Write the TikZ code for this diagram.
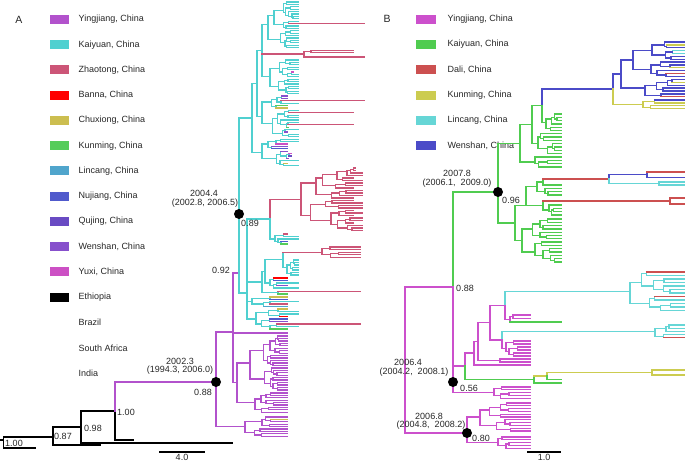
\documentclass[tikz,border=0pt]{standalone}
\usepackage{fontspec}
\setmainfont{Liberation Sans}
\definecolor{aYing}{RGB}{178,82,204}
\definecolor{aKai}{RGB}{80,208,208}
\definecolor{aZha}{RGB}{204,85,119}
\definecolor{aBan}{RGB}{255,0,0}
\definecolor{aChu}{RGB}{204,190,80}
\definecolor{aKun}{RGB}{85,204,90}
\definecolor{aLin}{RGB}{80,165,204}
\definecolor{aNuj}{RGB}{80,90,204}
\definecolor{aQuj}{RGB}{105,75,195}
\definecolor{aWen}{RGB}{135,80,204}
\definecolor{aYux}{RGB}{204,80,196}
\definecolor{bYing}{RGB}{204,80,204}
\definecolor{bKai}{RGB}{80,204,80}
\definecolor{bDal}{RGB}{204,80,80}
\definecolor{bKun}{RGB}{204,204,80}
\definecolor{bLin}{RGB}{102,214,214}
\definecolor{bWen}{RGB}{75,75,200}
\newcount\btleaf
\def\btname{x}
\newcommand\lc[4]{\expandafter\gdef\csname lc@#1@#2\endcsname##1##2{\pgfmathsetmacro\lctip{max(#4,##1+2)}\draw[#3] (##1,##2) -- (\lctip,##2);}}
\def\btleafdraw#1#2#3#4{%
  \ifcsname lc@\btname @\the\btleaf\endcsname
    \edef\btnextleaf{\expandafter\noexpand\csname lc@\btname @\the\btleaf\endcsname{#1}{#2}}%
  \else
    \def\btnextleaf{\draw[#4] (#1,#2) -- (#3,#2);}%
  \fi
  \btnextleaf}
\def\bt#1#2#3#4#5#6{%
  \ifnum#3=1
    \global\advance\btleaf by 1
    \btleafdraw{#1}{#2}{#5}{#6}%
  \else
    \begingroup
    \pgfmathtruncatemacro\btna{max(1,min(#3-1,round(#3*(0.3+0.4*rnd))))}%
    \pgfmathtruncatemacro\btnb{#3-\btna}%
    \pgfmathsetmacro\btya{#2+(\btna-1)*#4/2}%
    \pgfmathsetmacro\btyB{#2+\btna*#4}%
    \pgfmathsetmacro\btyb{\btyB+(\btnb-1)*#4/2}%
    \ifnum\btna=1 \def\btxa{#1}\else\pgfmathsetmacro\btxa{#1+(#5-#1)*(0.12+0.3*rnd)}\fi
    \ifnum\btnb=1 \def\btxb{#1}\else\pgfmathsetmacro\btxb{#1+(#5-#1)*(0.12+0.3*rnd)}\fi
    \draw[#6] (#1,\btya) -- (#1,\btyb);
    \ifnum\btna>1 \draw[#6] (#1,\btya) -- (\btxa,\btya);\fi
    \ifnum\btnb>1 \draw[#6] (#1,\btyb) -- (\btxb,\btyb);\fi
    \edef\btnext{\noexpand\bt{\btxa}{#2}{\btna}{#4}{#5}{#6}\noexpand\bt{\btxb}{\btyB}{\btnb}{#4}{#5}{#6}}%
    \expandafter\endgroup\btnext
  \fi}
\newcommand\clade[7]{\gdef\btname{#1}\global\btleaf=0 \bt{#2}{#3}{#4}{#5}{#6}{#7}}
\begin{document}
\begin{tikzpicture}[x=1pt,y=-1pt,line width=1.3pt,line cap=rect,
  lbl/.style={font=\fontsize{9}{10}\selectfont,inner sep=0pt,text=black!85},
  dot/.style={circle,fill=black,minimum size=10pt,inner sep=0pt}]
\useasboundingbox (0,0) rectangle (685,462);
\pgfmathsetseed{11}
% ---------- exceptions ----------
\lc{ua}{10}{aZha}{364}
\lc{ub}{6}{aYux}{287}
\lc{m1}{1}{aWen}{287}\lc{m1}{2}{aWen}{287}\lc{m1}{3}{aZha}{364}\lc{m1}{5}{aKun}{287}
\lc{m1}{6}{aChu}{287}\lc{m1}{8}{aZha}{353}\lc{m1}{13}{aZha}{353}\lc{m1}{14}{aKun}{287}\lc{m1}{16}{aWen}{287}
\lc{m2}{3}{aYux}{287}\lc{m2}{4}{aWen}{287}\lc{m2}{5}{aNuj}{287}\lc{m2}{6}{aWen}{287}
\lc{m2}{7}{aYux}{287}\lc{m2}{8}{aQuj}{287}\lc{m2}{9}{aWen}{287}\lc{m2}{11}{aChu}{287}
\foreach \k in {1,2,5,9,13,14,18,20,23}{\lc{z}{\k}{aZha}{353}}
\lc{s1}{1}{aZha}{287}\lc{s1}{4}{aNuj}{287}\lc{s1}{5}{aKun}{287}
\lc{c2}{1}{aBan}{287}\lc{c2}{2}{aNuj}{287}\lc{c2}{4}{aWen}{287}
\lc{c3}{1}{aChu}{287}\lc{c3}{2}{aNuj}{287}\lc{c3}{4}{aZha}{287}\lc{c3}{5}{aLin}{287}
\lc{c4}{1}{aChu}{287}\lc{c4}{4}{aBan}{287}\lc{c4}{5}{aNuj}{287}\lc{c4}{6}{aWen}{287}\lc{c4}{7}{aZha}{360}\lc{c4}{9}{aKun}{287}
\lc{p3}{2}{aChu}{287}
\lc{cb1}{1}{bDal}{685}\lc{cb1}{8}{bDal}{685}
\lc{cb2}{5}{bDal}{685}
\lc{y1}{1}{bWen}{685}
\lc{b2}{2}{bKun}{685}\lc{b2}{7}{bDal}{685}
\lc{b3}{2}{bKun}{685}\lc{b3}{4}{bLin}{685}\lc{b3}{5}{bLin}{685}
\lc{b4}{3}{bKun}{685}\lc{b4}{5}{bDal}{685}
% ---------- legend A ----------
\node[lbl,font=\fontsize{10.5}{12}\selectfont] (labA) at (19,20) {A};
\foreach \c/\t [count=\i from 0] in {aYing/{Yingjiang, China},aKai/{Kaiyuan, China},aZha/{Zhaotong, China},aBan/{Banna, China},aChu/{Chuxiong, China},aKun/{Kunming, China},aLin/{Lincang, China},aNuj/{Nujiang, China},aQuj/{Qujing, China},aWen/{Wenshan, China},aYux/{Yuxi, China},black/Ethiopia}{
  \pgfmathsetmacro\yy{19.5+25.25*\i}
  \fill[\c] (50,\yy-4.5) rectangle (69,\yy+4.5);
  \node[lbl,anchor=west] (legA\i) at (78,\yy) {\t};
}
\node[lbl,anchor=west] (legBr) at (78,322.5) {Brazil};
\node[lbl,anchor=west] (legSA) at (78,347.8) {South Africa};
\node[lbl,anchor=west] (legIn) at (78,373) {India};
% ---------- tree A : outgroup ----------
\draw (0,440) -- (3.5,440);
\draw (3.5,437) -- (3.5,448);
\draw (3.5,448) -- (35,448);
\draw (3.5,437) -- (53,437);
\draw (53,427) -- (53,445);
\draw (53,445) -- (100,445);
\draw (53,427) -- (81,427);
\draw (81,411) -- (81,443);
\draw (81,443) -- (232,443);
\draw (81,411) -- (115,411);
\draw (115,411) -- (115,440);
\draw (115,440) -- (133,440);
\draw[aYing] (115,382) -- (115,411);
\draw[aYing] (115,382) -- (216,382);
% root
\draw[aYing] (216,332) -- (216,426.6);
\draw[aYing] (216,332) -- (233,332);
\draw[aYing] (216,426.6) -- (245,426.6);
\clade{p3}{245}{417}{9}{2.4}{287}{aYing}
% node 0.92
\draw[aYing] (233,273) -- (233,382.8);
\draw[aYing] (233,273) -- (239,273);
\draw[aYing] (233,333) -- (287,333);
\draw[aYing] (233,382.8) -- (237,382.8);
\draw[aYing] (237,362.95) -- (237,402.6);
\draw[aYing] (237,362.95) -- (250,362.95);
\draw[aYing] (237,402.6) -- (255,402.6);
\clade{p1}{250}{336}{23}{2.45}{287}{aYing}
\clade{p2}{255}{393}{9}{2.4}{287}{aYing}
% node 2004.4
\draw[aKai] (239,118) -- (239,293);
\draw[aKai] (239,118) -- (252,118);
\draw[aKai] (252,83.6) -- (252,152.4);
\draw[aKai] (252,83.6) -- (257,83.6);
\draw[aKai] (252,152.4) -- (262,152.4);
\clade{m2}{262}{139.2}{12}{2.4}{298}{aKai}
\draw[aKai] (257,50.8) -- (257,116.4);
\draw[aKai] (257,50.8) -- (262,50.8);
\draw[aKai] (257,116.4) -- (262,116.4);
\clade{m1}{262}{96}{18}{2.4}{298}{aKai}
\draw[aKai] (262,24.8) -- (262,76.8);
\draw[aKai] (262,24.8) -- (268,24.8);
\draw[aKai] (262,76.8) -- (270,76.8);
\clade{ua}{268}{2}{20}{2.4}{298}{aKai}
\clade{ub}{270}{60}{15}{2.4}{298}{aKai}
\draw[aZha] (262,54) -- (304,54);
\draw[aZha] (304,51.5) -- (304,57);
\draw[aZha] (304,51.5) -- (311,51.5);
\draw[aZha] (311,50.3) -- (311,52.7);
\draw[aZha] (311,50.3) -- (353,50.3);
\draw[aZha] (311,52.7) -- (353,52.7);
\draw[aZha] (304,57) -- (364,57);
% Zhaotong clade
\draw[aZha] (270,199.25) -- (301,199.25);
\clade{z}{301}{168}{26}{2.5}{362}{aZha}
\draw[aZha] (270,199.25) -- (270,219);
\draw[aKai] (270,219) -- (270,239);
\draw[aKai] (247,219) -- (270,219);
\draw[aKai] (270,239) -- (275,239);
\clade{s1}{275}{234}{5}{2.5}{298}{aKai}
\draw[aKai] (247,219) -- (247,319);
\draw[aKai] (239,293) -- (247,293);
\draw[aKai] (247,282) -- (262,282);
\draw[aKai] (262,271.4) -- (262,292.75);
\draw[aKai] (262,271.4) -- (265,271.4);
\draw[aKai] (265,259.85) -- (265,283);
\draw[aKai] (265,259.85) -- (283,259.85);
\draw[aKai] (283,252.2) -- (283,267.5);
\draw[aZha] (283,252.2) -- (322,252.2);
\clade{z2}{322}{247}{5}{2.6}{360}{aZha}
\draw[aKai] (283,267.5) -- (287,267.5);
\clade{c1}{287}{260}{7}{2.5}{298}{aKai}
\draw[aKai] (265,283) -- (270,283);
\clade{c2}{270}{278}{5}{2.5}{298}{aKai}
\draw[aKai] (262,292.75) -- (278,292.75);
\draw[aKai] (278,291.5) -- (278,294);
\draw[aZha] (278,291.5) -- (360,291.5);
\draw[aKun] (278,294) -- (287,294);
\draw[aKai] (247,301.6) -- (252,301.6);
\clade{c3}{252}{297}{5}{2.3}{298}{aKai}
\draw[aKai] (247,319) -- (256,319);
\clade{c4}{256}{309}{9}{2.5}{298}{aKai}
% node marks and labels A
\node[dot] (nA1) at (239,214) {};
\node[dot] (nA2) at (216,382) {};
\node[lbl] (tA1) at (204,193) {2004.4};
\node[lbl] (tA2) at (205,203) {(2002.8, 2006.5)};
\node[lbl] (tA3) at (250,223) {0.89};
\node[lbl] (tA4) at (221,270) {0.92};
\node[lbl] (tA5) at (180,361) {2002.3};
\node[lbl] (tA6) at (180,370.5) {(1994.3, 2006.0)};
\node[lbl] (tA7) at (203,392) {0.88};
\node[lbl] (tA8) at (126,412) {1.00};
\node[lbl] (tA9) at (93,428) {0.98};
\node[lbl] (tA10) at (63,436) {0.87};
\node[lbl] (tA11) at (14,443) {1.00};
\draw (160,452) -- (204,452);
\node[lbl] (tA12) at (182,457) {4.0};
% ---------- legend B ----------
\node[lbl,font=\fontsize{10.5}{12}\selectfont] (labB) at (387,19) {B};
\foreach \c/\t [count=\i from 0] in {bYing/{Yingjiang, China},bKai/{Kaiyuan, China},bDal/{Dali, China},bKun/{Kunming, China},bLin/{Lincang, China},bWen/{Wenshan, China}}{
  \pgfmathsetmacro\yy{19.3+25.3*\i}
  \fill[\c] (416,\yy-4.5) rectangle (436,\yy+4.5);
  \node[lbl,anchor=west] (legB\i) at (447,\yy) {\t};
}
% ---------- tree B ----------
\draw[bYing] (405,287) -- (405,433);
\draw[bYing] (405,287) -- (453,287);
\draw[bYing] (405,433) -- (467,433);
\draw[bYing] (467,417) -- (467,442.6);
\draw[bYing] (467,417) -- (480,417);
\draw[bYing] (467,442.6) -- (498,442.6);
\clade{b68a}{480}{403}{11}{2.8}{530}{bYing}
\clade{b68b}{498}{437}{5}{2.8}{530}{bYing}
\draw[bKai] (453,192) -- (453,287);
\draw[bYing] (453,287) -- (453,392.6);
\draw[bKai] (453,192) -- (498,192);
\draw[bYing] (453,366) -- (465,366);
\draw[bYing] (453,392.6) -- (494,392.6);
\clade{b64}{494}{387}{5}{2.8}{530}{bYing}
\draw[bYing] (465,353) -- (465,366);
\draw[bKai] (465,366) -- (465,379.5);
\draw[bKai] (465,379.5) -- (534,379.5);
\draw[bKai] (534,376) -- (534,383);
\draw[bKai] (534,383) -- (561,383);
\draw[bKun] (534,376) -- (547,376);
\draw[bKun] (547,372.5) -- (547,376);
\draw[bKai] (547,376) -- (547,379.5);
\draw[bKai] (547,379.5) -- (561,379.5);
\draw[bKun] (547,372.5) -- (652,372.5);
\draw[bKun] (652,370) -- (652,375);
\draw[bKun] (652,370) -- (685,370);
\draw[bKun] (652,375) -- (685,375);
\draw[bYing] (465,353) -- (474,353);
\draw[bYing] (474,341.5) -- (474,365);
\draw[bYing] (474,365) -- (530,365);
\draw[bYing] (474,341.5) -- (478,341.5);
\draw[bYing] (478,322.6) -- (478,360.5);
\draw[bYing] (478,360.5) -- (500,360.5);
\draw[bYing] (500,359) -- (500,362);
\draw[bYing] (500,359) -- (530,359);
\draw[bYing] (500,362) -- (530,362);
\draw[bYing] (478,322.6) -- (490,322.6);
\draw[bYing] (490,305.3) -- (490,340);
\draw[bYing] (490,305.3) -- (505,305.3);
\draw[bLin] (505,291.25) -- (505,305.3);
\draw[bYing] (505,305.3) -- (505,319.4);
\draw[bLin] (505,291.25) -- (630,291.25);
\clade{cb1}{630}{272}{12}{3.5}{685}{bLin}
\draw[bYing] (505,319.4) -- (510,319.4);
\draw[bYing] (510,316.75) -- (510,322);
\draw[bKai] (510,322) -- (561,322);
\draw[bYing] (510,316.75) -- (513,316.75);
\draw[bYing] (513,315) -- (513,318.5);
\draw[bYing] (513,315) -- (530,315);
\draw[bYing] (513,318.5) -- (530,318.5);
\draw[bYing] (490,340) -- (502,340);
\draw[bLin] (502,331.4) -- (502,340);
\draw[bYing] (502,340) -- (502,348.5);
\draw[bLin] (502,331.4) -- (655,331.4);
\clade{cb2}{655}{325}{5}{3.2}{685}{bLin}
\draw[bYing] (502,348.5) -- (506,348.5);
\clade{mb}{506}{341}{6}{3}{530}{bYing}
% 2007.8 clade
\draw[bKai] (498,143.3) -- (498,223);
\draw[bKai] (498,143.3) -- (520,143.3);
\draw[bKai] (520,124.65) -- (520,162);
\draw[bKai] (520,162) -- (535,162);
\clade{g3}{535}{157}{4}{3.3}{561}{bKai}
\draw[bKai] (520,124.65) -- (532,124.65);
\draw[bKai] (532,105.6) -- (532,143.7);
\draw[bKai] (532,143.7) -- (538,143.7);
\clade{g2}{538}{133.8}{7}{3.3}{561}{bKai}
\draw[bKai] (532,105.6) -- (542,105.6);
\draw[bWen] (542,89) -- (542,105.6);
\draw[bKai] (542,105.6) -- (542,122.25);
\draw[bKai] (542,122.25) -- (546,122.25);
\clade{g1}{546}{114}{6}{3.3}{561}{bKai}
\draw[bWen] (542,89) -- (613,89);
\draw[bWen] (613,74) -- (613,89);
\draw[bKun] (613,89) -- (613,104.35);
\draw[bKun] (613,104.35) -- (643,104.35);
\clade{y1}{643}{100}{4}{2.9}{685}{bKun}
\draw[bWen] (613,74) -- (621,74);
\draw[bWen] (621,60) -- (621,88.1);
\draw[bWen] (621,88.1) -- (645,88.1);
\clade{b2}{645}{79.4}{7}{2.9}{685}{bWen}
\draw[bWen] (621,60) -- (633,60);
\draw[bWen] (633,50.7) -- (633,69.25);
\draw[bWen] (633,50.7) -- (652,50.7);
\clade{b3}{652}{42}{7}{2.9}{685}{bWen}
\draw[bWen] (633,69.25) -- (651,69.25);
\clade{b4}{651}{62}{6}{2.9}{685}{bWen}
\draw[bKai] (498,223) -- (515,223);
\draw[bKai] (515,205.5) -- (515,240.5);
\draw[bKai] (515,240.5) -- (522,240.5);
\clade{g4c}{522}{219}{14}{3.3}{561}{bKai}
\draw[bKai] (515,205.5) -- (526,205.5);
\draw[bKai] (526,186.8) -- (526,205.5);
\draw[bKai] (526,186.8) -- (537,186.8);
\draw[bKai] (537,182) -- (537,191.6);
\draw[bKai] (537,191.6) -- (545,191.6);
\clade{g4a}{545}{188.3}{3}{3.3}{561}{bKai}
\draw[bKai] (537,182) -- (543,182);
\draw[bKai] (543,179) -- (543,185);
\draw[bKai] (543,185) -- (561,185);
\draw[bDal] (543,179) -- (609,179);
\draw[bWen] (609,174.75) -- (609,179);
\draw[bLin] (609,179) -- (609,183.5);
\draw[bWen] (609,174.75) -- (647,174.75);
\draw[bWen] (647,172) -- (647,177.5);
\draw[bDal] (647,172) -- (685,172);
\draw[bWen] (647,177.5) -- (685,177.5);
\draw[bLin] (609,183.5) -- (659,183.5);
\draw[bLin] (659,182) -- (659,185);
\draw[bLin] (659,182) -- (685,182);
\draw[bLin] (659,185) -- (685,185);
\draw[bKai] (526,205.5) -- (543,205.5);
\draw[bKai] (543,201) -- (543,210);
\draw[bDal] (543,201) -- (670,201);
\draw[bDal] (670,198) -- (670,204);
\draw[bDal] (670,198) -- (685,198);
\draw[bDal] (670,204) -- (685,204);
\draw[bKai] (543,210) -- (549,210);
\clade{g4b}{549}{205}{4}{3.3}{561}{bKai}
% node marks and labels B
\node[dot] (nB1) at (498,192) {};
\node[dot] (nB2) at (453,382) {};
\node[dot] (nB3) at (467,433) {};
\node[lbl] (tB1) at (457,173) {2007.8};
\node[lbl] (tB2) at (457,183) {(2006.1,\hspace{5pt}2009.0)};
\node[lbl] (tB3) at (511,200) {0.96};
\node[lbl] (tB4) at (465,288) {0.88};
\node[lbl] (tB5) at (408,362) {2006.4};
\node[lbl] (tB6) at (414,372) {(2004.2,\hspace{5pt}2008.1)};
\node[lbl] (tB7) at (469,388) {0.56};
\node[lbl] (tB8) at (429,416) {2006.8};
\node[lbl] (tB9) at (431,425.5) {(2004.8,\hspace{5pt}2008.2)};
\node[lbl] (tB10) at (481,438) {0.80};
\draw (528,452) -- (560,452);
\node[lbl] (tB11) at (544,457) {1.0};
\end{tikzpicture}
\end{document}
